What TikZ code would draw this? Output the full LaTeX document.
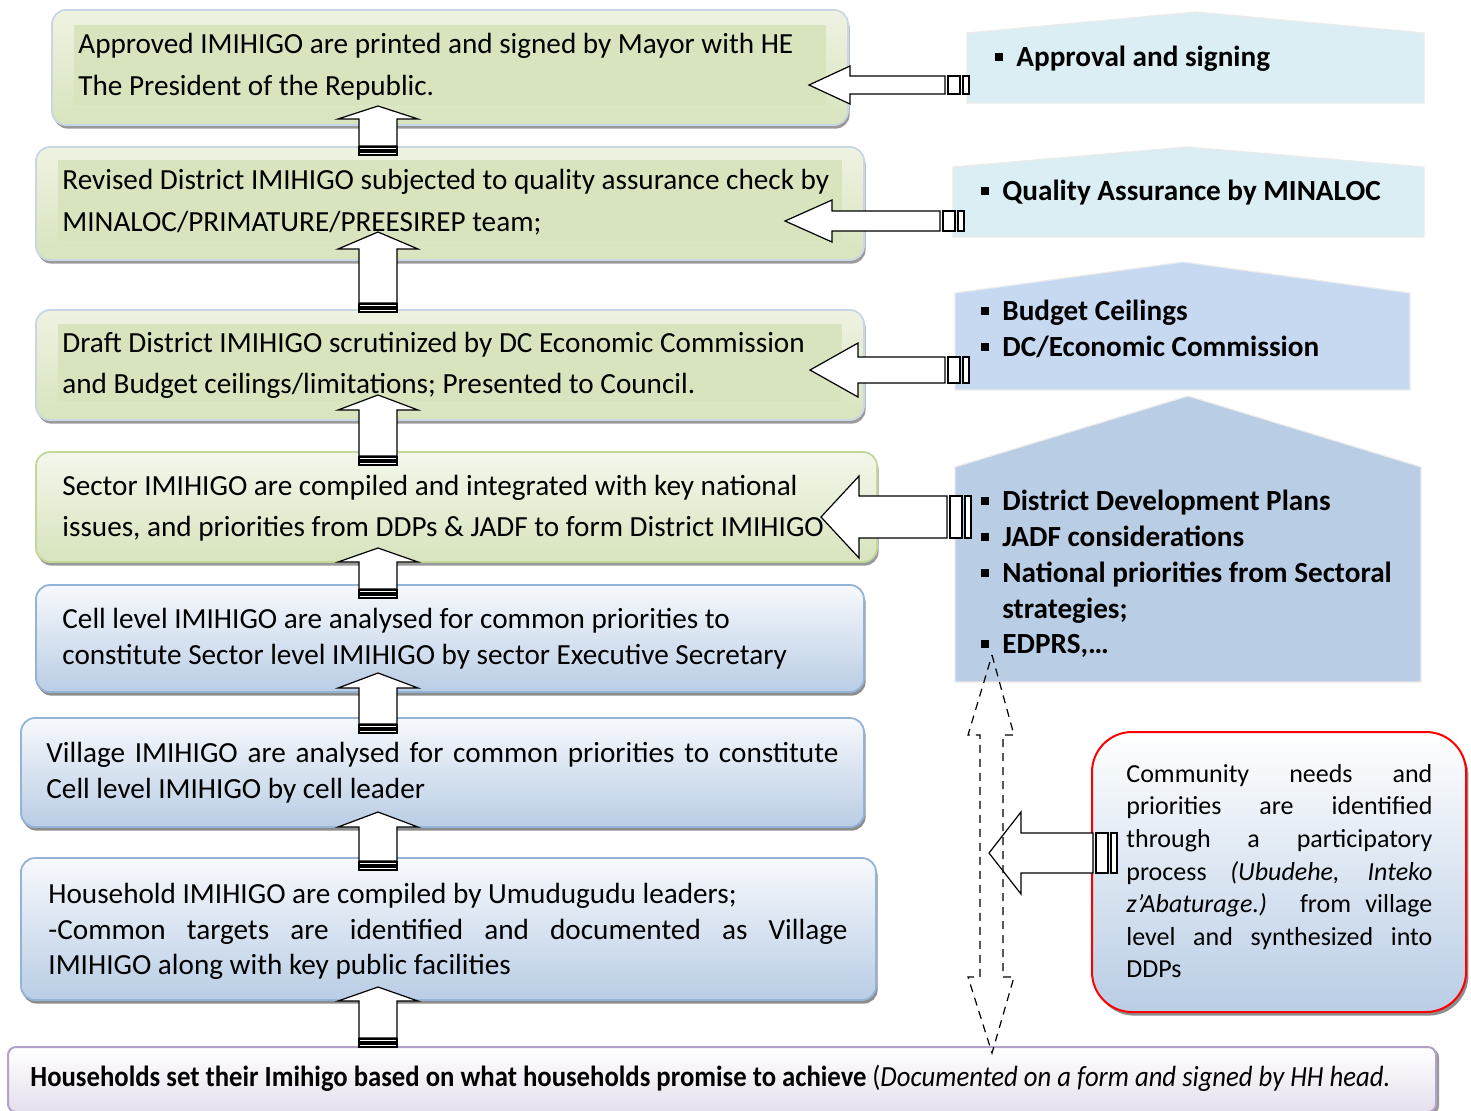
\documentclass[tikz,border=0pt]{standalone}
\usepackage{fontspec}
\usepackage{graphicx}
\setmainfont{Carlito}
\usetikzlibrary{shadows,fit}
\definecolor{grn}{HTML}{D7E4BD}
\definecolor{grnlt}{HTML}{EEF3E2}
\definecolor{grnbd}{HTML}{C9D6E3}
\definecolor{grnbd4}{HTML}{C3D69B}
\definecolor{blu}{HTML}{B9CDE5}
\definecolor{blult}{HTML}{F7F9FC}
\definecolor{blubd}{HTML}{95B3D7}
\definecolor{cyanlt}{HTML}{DBEEF4}
\definecolor{pblue}{HTML}{C6D9F1}
\definecolor{pblue2}{HTML}{B9CDE5}
\definecolor{lav}{HTML}{E5DFEC}
\definecolor{lavbd}{HTML}{B3A2C7}
\tikzset{
  gbox/.style={rounded corners=7pt, draw=grnbd, line width=0.9pt, top color=grnlt, bottom color=grn,
     drop shadow={shadow xshift=0.8pt, shadow yshift=-1.8pt, fill=black!40, opacity=1}},
  gbox4/.style={rounded corners=7pt, draw=grnbd4, line width=0.9pt, top color=white!70!grn, bottom color=grn,
     drop shadow={shadow xshift=0.8pt, shadow yshift=-1.8pt, fill=black!40, opacity=1}},
  bbox/.style={rounded corners=7pt, draw=blubd, line width=0.9pt, top color=blult, bottom color=blu,
     drop shadow={shadow xshift=0.8pt, shadow yshift=-1.8pt, fill=black!45, opacity=1}},
  rbox/.style={rounded corners=20pt, draw=red, line width=1pt, top color=white, bottom color=blu,
     drop shadow={shadow xshift=1.2pt, shadow yshift=-1.8pt, fill=black!45, opacity=1}},
  lbox/.style={rounded corners=4pt, draw=lavbd, line width=1pt, top color=white, bottom color=lav,
     drop shadow={shadow xshift=1.5pt, shadow yshift=-1pt, fill=black!40, opacity=1}},
  hilite/.style={fill=grn, draw=none},
  pent/.style={draw=black!8, line width=0.6pt},
  blk/.style={draw=black, fill=white, line width=0.6pt, line join=miter},
  dblk/.style={draw=black, line width=0.6pt, dashed, dash pattern=on 4pt off 3pt},
  txt/.style={anchor=base west, inner sep=0pt, font=\fontsize{14.6}{17.5}\selectfont},
  btxt/.style={anchor=base west, inner sep=0pt, font=\fontsize{14.6}{17.5}\selectfont\bfseries},
  rtxt/.style={anchor=base west, inner sep=0pt, font=\fontsize{13}{15.6}\selectfont},
}
\newcommand\UpBlk[4]{% cx, tip y, head base y, bottom y
  \filldraw[blk] (#1,#2) -- (#1+40,#3) -- (#1+19,#3) -- (#1+19,#4-9) -- (#1-19,#4-9) -- (#1-19,#3) -- (#1-40,#3) -- cycle;
  \filldraw[blk] (#1-19,#4-8) rectangle (#1+19,#4-5);
  \filldraw[blk] (#1-19,#4-3) rectangle (#1+19,#4);
}
\newcommand\LeftBlk[6]{% tip x, yc, head base x, half head, half shaft, shaft end x
  \filldraw[blk] (#1,#2) -- (#3,#2-#4) -- (#3,#2-#5) -- (#6,#2-#5) -- (#6,#2+#5) -- (#3,#2+#5) -- (#3,#2+#4) -- cycle;
  \filldraw[blk] (#6+3,#2-#5) rectangle (#6+15,#2+#5);
  \filldraw[blk] (#6+18,#2-#5) rectangle (#6+24,#2+#5);
}
\newcommand\Bul{\makebox[10.5pt][l]{\rule[2.6pt]{3.8pt}{3.8pt}}}
\begin{document}
\begin{tikzpicture}[x=0.5pt,y=-0.5pt]
\useasboundingbox (0,0) rectangle (1471,1110);

% ---------- pentagons on the right ----------
\path[pent, fill=cyanlt] (967,103) -- (967,33) -- (1196,12) -- (1424,33) -- (1424,103) -- cycle;
\path[pent, fill=cyanlt] (953,237) -- (953,167) -- (1187,147) -- (1424,167) -- (1424,237) -- cycle;
\path[pent, fill=pblue] (955,390) -- (955,293) -- (1183,262) -- (1410,293) -- (1410,390) -- cycle;
\path[pent, fill=pblue2] (955,682) -- (955,467) -- (1188,396) -- (1421,467) -- (1421,682) -- cycle;

% ---------- bottom bar ----------
\node[lbox, fit={(8,1047) (1436,1112)}, inner sep=0pt] (hh) {};

% ---------- process boxes ----------
\node[gbox, fit={(52,10) (848,125)}, inner sep=0pt] (b1) {};
\fill[hilite] (74,25) rectangle (826,105);
\node[gbox, fit={(36,147) (864,260)}, inner sep=0pt] (b2) {};
\fill[hilite] (58,160) rectangle (842,241);
\node[gbox, fit={(36,310) (864,420)}, inner sep=0pt] (b3) {};
\fill[hilite] (58,324) rectangle (842,402);
\node[gbox4, fit={(36,452) (877,562)}, inner sep=0pt] (b4) {};
\node[bbox, fit={(36,585) (864,692)}, inner sep=0pt] (b5) {};
\node[bbox, fit={(21,718) (864,827)}, inner sep=0pt] (b6) {};
\node[bbox, fit={(21,858) (876,1000)}, inner sep=0pt] (b7) {};

% ---------- community box ----------
\node[rbox, fit={(1092,732) (1466,1012)}, inner sep=0pt] (cb) {};

% ---------- up block arrows ----------
\UpBlk{378}{106}{119}{155}
\UpBlk{378}{232}{249}{312}
\UpBlk{378}{395}{410}{465}
\UpBlk{378}{548}{562}{598}
\UpBlk{378}{673}{688}{733}
\UpBlk{378}{812}{827}{870}
\UpBlk{378}{987}{1001}{1047}

% ---------- left block arrows ----------
\LeftBlk{809}{85}{850}{19}{9}{945}
\LeftBlk{785}{221}{832}{21}{10}{940}
\LeftBlk{810}{370}{858}{27}{13}{945}
\LeftBlk{821}{517}{859}{41}{21}{947}
\LeftBlk{989}{853}{1021}{41}{20}{1093}

% ---------- dashed double arrow ----------
\draw[dblk] (992,655) -- (1014,735) -- (1003,735) -- (1003,977) -- (1014,977) -- (992,1053)
  -- (968,977) -- (980,977) -- (980,735) -- (968,735) -- cycle;

% ---------- texts in process boxes ----------
\node[txt] (t1a) at (78,53) {Approved IMIHIGO are printed and signed by Mayor with HE};
\node[txt] (t1b) at (78,95) {The President of the Republic.};
\node[txt] (t2a) at (62,189) {Revised District IMIHIGO subjected to quality assurance check by};
\node[txt] (t2b) at (62,231) {MINALOC/PRIMATURE/PREESIREP team;};
\node[txt] (t3a) at (62,352) {Draft District IMIHIGO scrutinized by DC Economic Commission};
\node[txt] (t3b) at (62,393) {and Budget ceilings/limitations; Presented to Council.};
\node[txt] (t4a) at (62,495) {Sector IMIHIGO are compiled and integrated with key national};
\node[txt] (t4b) at (62,536) {issues, and priorities from DDPs \& JADF to form District IMIHIGO};
\node[txt] (t5a) at (62,628) {Cell level IMIHIGO are analysed for common priorities to};
\node[txt] (t5b) at (62,664) {constitute Sector level IMIHIGO by sector Executive Secretary};
\node[txt] (t6a) at (46,762) {\makebox[396pt][s]{Village IMIHIGO are analysed for common priorities to constitute}};
\node[txt] (t6b) at (46,798) {Cell level IMIHIGO by cell leader};
\node[txt] (t7a) at (48,903) {Household IMIHIGO are compiled by Umudugudu leaders;};
\node[txt] (t7b) at (48,939) {\makebox[399.5pt][s]{-Common targets are identified and documented as Village}};
\node[txt] (t7c) at (48,974) {IMIHIGO along with key public facilities};

% ---------- texts in pentagons ----------
\node[btxt] (p1a) at (995,66) {\Bul Approval and signing};
\node[btxt] (p2a) at (981,200) {\Bul Quality Assurance by MINALOC};
\node[btxt] (p3a) at (981,320) {\Bul Budget Ceilings};
\node[btxt] (p3b) at (981,356) {\Bul DC/Economic Commission};
\node[btxt] (p4a) at (981,510) {\Bul District Development Plans};
\node[btxt] (p4b) at (981,546) {\Bul JADF considerations};
\node[btxt] (p4c) at (981,582) {\Bul National priorities from Sectoral};
\node[btxt] (p4d) at (1002,618) {strategies;};
\node[btxt] (p4e) at (981,653) {\Bul EDPRS,…};

% ---------- community text ----------
\node[rtxt] (c1) at (1126,782) {\makebox[153pt][s]{Community needs and}};
\node[rtxt] (c2) at (1126,814) {\makebox[153pt][s]{priorities are identified}};
\node[rtxt] (c3) at (1126,847) {\makebox[153pt][s]{through a participatory}};
\node[rtxt] (c4) at (1126,880) {\makebox[153pt][s]{process \textit{(Ubudehe, Inteko}}};
\node[rtxt] (c5) at (1126,912) {\makebox[153pt][s]{\textit{z’Abaturage.)} from village}};
\node[rtxt] (c6) at (1126,945) {\makebox[153pt][s]{level and synthesized into}};
\node[rtxt] (c7) at (1126,977) {DDPs};

% ---------- bottom text ----------
\node[txt] (hht) at (30,1086) {\resizebox{680pt}{\height}{\textbf{Households set their Imihigo based on what households promise to achieve} (\textit{Documented on a form and signed by HH head.}}};
\end{tikzpicture}
\end{document}
